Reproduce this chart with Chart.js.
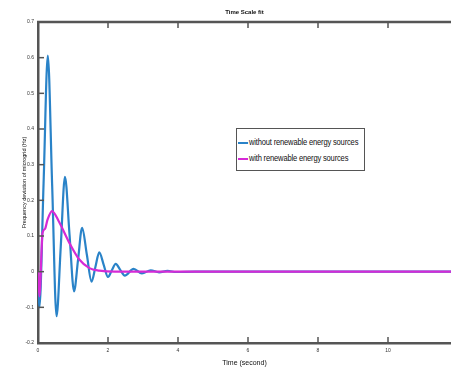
<!DOCTYPE html>
<html>
<head>
<meta charset="utf-8">
<script src="https://cdn.jsdelivr.net/npm/chart.js@4/dist/chart.umd.min.js"></script>
<style>
  html, body { margin: 0; padding: 0; background: #fff; }
  #wrap { position: relative; width: 451px; height: 369px; overflow: hidden; }
  #legend { position: absolute; left: 236px; top: 128px; width: 127px; height: 41px;
    border: 1.5px solid #555; background: #fff; font-family: "Liberation Sans", sans-serif;
    font-size: 9px; color: #111; box-sizing: content-box; overflow: hidden; }
  .item { position: absolute; left: 1px; height: 12px; line-height: 12px; white-space: nowrap;
    transform: scaleX(0.84); transform-origin: 0 50%; letter-spacing: -0.2px; }
  .swatch { display: inline-block; width: 12px; height: 0; border-top: 2px solid; vertical-align: middle; margin-right: 1px; }
</style>
</head>
<body>
<div id="wrap">
  <canvas id="c" width="451" height="369"></canvas>
  <div id="legend"></div>
</div>
<script>
// ---- data ----
const chartTitle = "Time Scale fit";
const xAxisTitle = "Time (second)";
const yAxisTitle = "Frequency deviation of microgrid (Hz)";
const seriesNames = ["without renewable energy sources", "with renewable energy sources"];

const xTickValues = [0, 2, 4, 6, 8, 10];
const yTickValues = [-0.2, -0.1, 0, 0.1, 0.2, 0.3, 0.4, 0.5, 0.6, 0.7];

// without renewable energy sources (blue)
const timeWithout = [0, 0.04, 0.16, 0.28, 0.405, 0.53, 0.65, 0.77, 0.9, 1.03, 1.145, 1.26, 1.395, 1.53, 1.64, 1.75, 1.875, 2.0, 2.11, 2.22, 2.35, 2.48, 2.73, 2.97, 3.22, 3.46, 3.7, 3.95, 4.5, 11.8];
const freqWithout = [-0.03, -0.1, 0.25, 0.606, 0.24, -0.125, 0.07, 0.266, 0.105, -0.055, 0.034, 0.123, 0.048, -0.028, 0.013, 0.054, 0.02, -0.015, 0.004, 0.022, 0.005, -0.011, 0.008, -0.005, 0.004, -0.002, 0.002, -0.001, 0, 0];

// with renewable energy sources (magenta)
const timeWith = [0, 0.04, 0.13, 0.2, 0.27, 0.4, 0.6, 0.9, 1.18, 1.47, 1.75, 2.2, 11.8];
const freqWith = [0, -0.069, 0.109, 0.12, 0.145, 0.17, 0.14, 0.08, 0.034, 0.01, 0.003, 0, 0];

const colors = ["#2a83c8", "#d62ad6"];

const toPts = (xs, ys) => xs.map((x, i) => ({ x: x, y: ys[i] }));

const inwardTicks = {
  id: 'inwardTicks',
  afterDraw(chart) {
    const { ctx, chartArea: a, scales } = chart;
    ctx.save();
    ctx.strokeStyle = '#555';
    ctx.lineWidth = 1.5;
    const len = 6;
    xTickValues.forEach(v => {
      const px = scales.x.getPixelForValue(v);
      ctx.beginPath(); ctx.moveTo(px, a.bottom); ctx.lineTo(px, a.bottom - len); ctx.stroke();
      ctx.beginPath(); ctx.moveTo(px, a.top); ctx.lineTo(px, a.top + len); ctx.stroke();
    });
    yTickValues.forEach(v => {
      const py = scales.y.getPixelForValue(v);
      ctx.beginPath(); ctx.moveTo(a.left, py); ctx.lineTo(a.left + len, py); ctx.stroke();
    });
    ctx.lineWidth = 2.5;
    ctx.beginPath(); ctx.moveTo(a.left - 1, a.top); ctx.lineTo(a.right, a.top); ctx.stroke();
    ctx.restore();
  }
};

const chart = new Chart(document.getElementById('c'), {
  type: 'line',
  data: {
    datasets: [
      { label: seriesNames[0], data: toPts(timeWithout, freqWithout), borderColor: colors[0], backgroundColor: colors[0],
        borderWidth: 2.2, pointRadius: 0, cubicInterpolationMode: 'monotone', fill: false, order: 1 },
      { label: seriesNames[1], data: toPts(timeWith, freqWith), borderColor: colors[1], backgroundColor: colors[1],
        borderWidth: 2.2, pointRadius: 0, cubicInterpolationMode: 'monotone', fill: false, order: 0 }
    ]
  },
  options: {
    responsive: false,
    animation: false,
    devicePixelRatio: 1,
    layout: { padding: 0 },
    plugins: {
      legend: { display: false },
      tooltip: { enabled: false },
      title: {
        display: true, text: chartTitle, color: '#111',
        font: { family: "Liberation Sans", size: 6, weight: 'bold', lineHeight: 1.2 },
        padding: { top: 9, bottom: 5.8 }, fullSize: false
      }
    },
    scales: {
      x: {
        type: 'linear', min: 0, max: 11.8,
        afterBuildTicks: s => { s.ticks = xTickValues.map(v => ({ value: v })); },
        afterFit: s => { s.height = 26; },
        grid: { display: false, drawTicks: false, tickLength: 0 },
        border: { display: true, color: '#555', width: 2.5 },
        ticks: { color: '#333', font: { family: "Liberation Sans", size: 5 }, padding: 5, maxRotation: 0, autoSkip: false },
        title: { display: true, text: xAxisTitle, color: '#111',
          font: { family: "Liberation Sans", size: 7, lineHeight: 1.2 },
          padding: { top: 0, bottom: 1.8 } }
      },
      y: {
        type: 'linear', min: -0.2, max: 0.7,
        afterBuildTicks: s => { s.ticks = yTickValues.map(v => ({ value: v })); },
        afterFit: s => { s.width = 38; },
        grid: { display: false, drawTicks: false, tickLength: 0 },
        border: { display: true, color: '#555', width: 2.5 },
        ticks: { color: '#333', font: { family: "Liberation Sans", size: 5 }, padding: 4, autoSkip: false,
          callback: v => (Math.abs(v) < 1e-9 ? '0' : v.toFixed(1)) },
        title: { display: true, text: yAxisTitle, color: '#111',
          font: { family: "Liberation Sans", size: 5.5, lineHeight: 1.2 },
          padding: { top: 21.5, bottom: 0 } }
      }
    }
  },
  plugins: [inwardTicks]
});

// legend built from the chart's datasets
const lg = document.getElementById('legend');
chart.data.datasets.forEach((ds, i) => {
  const d = document.createElement('div');
  d.className = 'item';
  d.style.top = (7 + i * 16) + 'px';
  const sw = document.createElement('span');
  sw.className = 'swatch';
  sw.style.borderTopColor = ds.borderColor;
  d.appendChild(sw);
  d.appendChild(document.createTextNode(ds.label));
  lg.appendChild(d);
});
</script>
</body>
</html>
